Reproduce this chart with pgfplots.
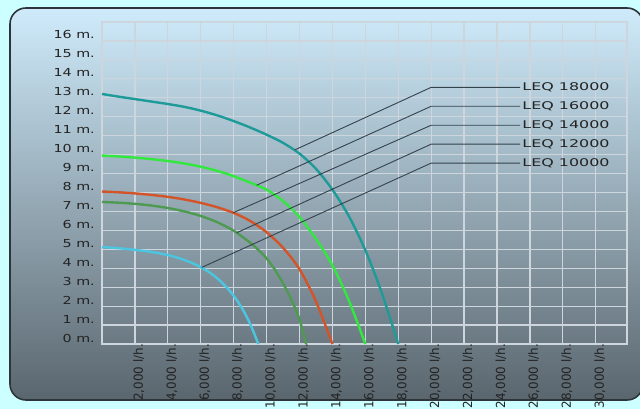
\documentclass[border=0pt]{standalone}
\usepackage{pgfplots}
\pgfplotsset{compat=1.18}
\usepackage{fontspec}
\setmainfont{DejaVu Sans}
\newfontfamily\yfont[FakeStretch=1.3]{DejaVu Sans}
\newfontfamily\lfont[FakeStretch=1.5]{DejaVu Sans}
\newfontfamily\xfont[FakeStretch=0.95]{DejaVu Sans}
\definecolor{outerbg}{RGB}{204,255,255}
\definecolor{paneltop}{RGB}{207,235,251}
\definecolor{panelmid}{RGB}{163,184,198}
\definecolor{panelbot}{RGB}{90,102,110}
\definecolor{paneledge}{RGB}{45,52,58}
\definecolor{gridc}{RGB}{205,214,220}
\definecolor{txt}{RGB}{35,35,35}
\definecolor{leader}{RGB}{52,66,76}
\definecolor{cteal}{RGB}{30,155,152}
\definecolor{cgreen}{RGB}{50,232,62}
\definecolor{cred}{RGB}{212,84,42}
\definecolor{cdgreen}{RGB}{78,154,80}
\definecolor{ccyan}{RGB}{76,198,224}

\begin{document}
\begin{tikzpicture}[x=1pt,y=1pt]
\useasboundingbox (0,0) rectangle (640,409);
\fill[outerbg] (0,0) rectangle (640,409);
\shadedraw[top color=paneltop, middle color=panelmid, bottom color=panelbot,
  draw=paneledge, line width=1.6pt, rounded corners=16pt] (10,9) rectangle (643,401);
\begin{axis}[
  at={(102pt,65pt)}, anchor=south west,
  scale only axis,
  width=525pt, height=322pt,
  xmin=0, xmax=31900, ymin=0, ymax=17,
  xtick={2000,4000,...,30000},
  xticklabels={{2,000 l/h.},{4,000 l/h.},{6,000 l/h.},{8,000 l/h.},{10,000 l/h.},
    {12,000 l/h.},{14,000 l/h.},{16,000 l/h.},{18,000 l/h.},{20,000 l/h.},
    {22,000 l/h.},{24,000 l/h.},{26,000 l/h.},{28,000 l/h.},{30,000 l/h.}},
  ytick={0,1,...,16},
  yticklabels={0 m.,1 m.,2 m.,3 m.,4 m.,5 m.,6 m.,7 m.,8 m.,9 m.,10 m.,11 m.,12 m.,13 m.,14 m.,15 m.,16 m.},
  xticklabel style={rotate=90, anchor=east, inner sep=0pt, yshift=-4pt,
    font=\xfont\fontsize{12.5}{14}\selectfont, text=txt},
  yticklabel style={anchor=east, inner sep=0pt, xshift=-7pt, yshift=6pt,
    font=\yfont\fontsize{11}{13}\selectfont, text=txt},
  major tick length=0pt,
  grid=major,
  grid style={gridc, line width=1.2pt},
  axis line style={gridc, line width=1.2pt},
  scaled x ticks=false,
  clip=false,
]
% LEQ 18000
\addplot[cteal, line width=2.4pt, smooth] coordinates {
  (0,13.2) (1000,13.06) (2000,12.93) (3000,12.8) (4000,12.67) (5000,12.52)
  (6000,12.32) (7000,12.07) (8000,11.77) (9000,11.43) (10000,11.05) (11000,10.62)
  (12000,10.05) (13000,9.25) (14000,8.15) (15000,6.75) (16000,4.95) (17000,2.7) (18000,0)
};
% LEQ 16000
\addplot[cgreen, line width=2.4pt, smooth] coordinates {
  (0,9.95) (1000,9.9) (2000,9.84) (3000,9.76) (4000,9.66) (5000,9.53) (6000,9.36)
  (7000,9.14) (8000,8.86) (9000,8.52) (10000,8.15) (11000,7.55) (12000,6.7)
  (13000,5.55) (14000,4.15) (15000,2.3) (16000,0)
};
% LEQ 14000
\addplot[cred, line width=2.4pt, smooth] coordinates {
  (0,8.05) (1000,8.01) (2000,7.95) (3000,7.87) (4000,7.77) (5000,7.63) (6000,7.45)
  (7000,7.22) (8000,6.92) (9000,6.5) (10000,5.9) (11000,5.08) (12000,3.95)
  (13000,2.25) (14000,0)
};
% LEQ 12000
\addplot[cdgreen, line width=2.4pt, smooth] coordinates {
  (0,7.5) (1000,7.46) (2000,7.4) (3000,7.31) (4000,7.18) (5000,7.0) (6000,6.76)
  (7000,6.43) (8000,5.98) (9000,5.35) (9500,4.97) (10000,4.52) (10500,3.93)
  (11000,3.2) (11500,2.35) (12000,1.3) (12400,0)
};
% LEQ 10000
\addplot[ccyan, line width=2.4pt, smooth] coordinates {
  (0,5.12) (1000,5.06) (2000,4.97) (3000,4.86) (4000,4.7) (4500,4.58) (5000,4.44)
  (5500,4.27) (6000,4.06) (6500,3.8) (7000,3.47) (7500,3.06) (8000,2.55)
  (8500,1.9) (9000,1.07) (9500,0)
};
% leader lines
\addplot[leader, line width=0.9pt] coordinates {(11721,10.25) (20000,13.55) (25400,13.55)}
  node[pos=1, anchor=west, inner sep=2pt, text=txt, font=\lfont\fontsize{10.6}{12}\selectfont] {LEQ 18000};
\addplot[leader, line width=0.9pt] coordinates {(9394,8.38) (20000,12.55) (25400,12.55)}
  node[pos=1, anchor=west, inner sep=2pt, text=txt, font=\lfont\fontsize{10.6}{12}\selectfont] {LEQ 16000};
\addplot[leader, line width=0.9pt] coordinates {(7973,6.93) (20000,11.55) (25400,11.55)}
  node[pos=1, anchor=west, inner sep=2pt, text=txt, font=\lfont\fontsize{10.6}{12}\selectfont] {LEQ 14000};
\addplot[leader, line width=0.9pt] coordinates {(8180,5.87) (20000,10.55) (25400,10.55)}
  node[pos=1, anchor=west, inner sep=2pt, text=txt, font=\lfont\fontsize{10.6}{12}\selectfont] {LEQ 12000};
\addplot[leader, line width=0.9pt] coordinates {(6054,4.04) (20000,9.55) (25400,9.55)}
  node[pos=1, anchor=west, inner sep=2pt, text=txt, font=\lfont\fontsize{10.6}{12}\selectfont] {LEQ 10000};
\end{axis}
\end{tikzpicture}
\end{document}
